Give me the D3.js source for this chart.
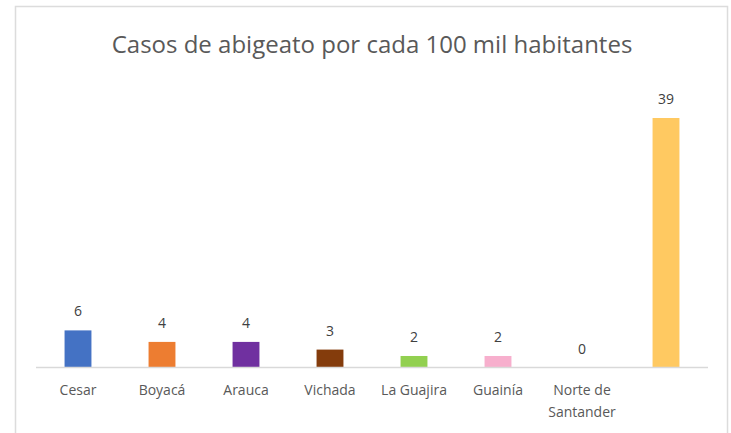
<!DOCTYPE html>
<html>
<head>
<meta charset="utf-8">
<script src="https://cdn.jsdelivr.net/npm/d3@7"></script>
<style>
  body { margin: 0; background: #fff; }
  text { font-family: "Open Sans", "Noto Sans", sans-serif; }
</style>
</head>
<body>
<div id="chart"></div>
<script>
var departamentos = ["Cesar", "Boyacá", "Arauca", "Vichada", "La Guajira", "Guainía", "Norte de Santander", ""];
var casos = [5.8, 4.0, 4.0, 2.8, 1.8, 1.8, 0, 39];
var etiquetas = ["6", "4", "4", "3", "2", "2", "0", "39"];
var colores = ["#4472C4", "#ED7D31", "#7030A0", "#843C0C", "#92D050", "#F7AFCD", "#FFC961", "#FFC961"];

var W = 731, H = 433;
var margin = {left: 36, right: 23, top: 118, bottom: 66};

var svg = d3.select("#chart").append("svg")
	.attr("width", W)
	.attr("height", H);

svg.append("rect")
	.attr("x", 15.5)
	.attr("y", 6.5)
	.attr("width", 712)
	.attr("height", 440)
	.style("fill", "none")
	.style("stroke", "#dcdcdc")
	.style("stroke-width", 1.5);

svg.append("text")
	.attr("x", 372)
	.attr("y", 53)
	.attr("text-anchor", "middle")
	.style("font-size", "24px")
	.style("fill", "#595959")
	.text("Casos de abigeato por cada 100 mil habitantes");

var x = d3.scaleBand()
	.domain(d3.range(departamentos.length))
	.range([margin.left, W - margin.right])
	.paddingInner(0.68)
	.paddingOuter(0.34);

var baseY = 367.5;
var y = d3.scaleLinear()
	.domain([0, 39])
	.range([baseY, margin.top]);

var g = svg.append("g");

g.selectAll("rect.bar")
	.data(casos)
	.enter().append("rect")
	.attr("class", "bar")
	.attr("x", function(d, i) { return x(i); })
	.attr("y", function(d) { return y(d); })
	.attr("width", x.bandwidth())
	.attr("height", function(d) { return baseY - y(d); })
	.style("fill", function(d, i) { return colores[i]; });

g.selectAll("text.valor")
	.data(casos)
	.enter().append("text")
	.attr("class", "valor")
	.attr("x", function(d, i) { return x(i) + x.bandwidth() / 2; })
	.attr("y", function(d) { return y(d) - 14; })
	.attr("text-anchor", "middle")
	.style("font-size", "14px")
	.style("fill", "#404040")
	.text(function(d, i) { return etiquetas[i]; });

svg.append("line")
	.attr("x1", margin.left)
	.attr("x2", W - margin.right)
	.attr("y1", baseY)
	.attr("y2", baseY)
	.style("stroke", "#d9d9d9")
	.style("stroke-width", 1.5);

// etiquetas de categoría, partidas en dos líneas si no caben
var cat = svg.selectAll("text.cat")
	.data(departamentos)
	.enter().append("text")
	.attr("class", "cat")
	.attr("x", function(d, i) { return x(i) + x.bandwidth() / 2; })
	.attr("y", 395)
	.attr("text-anchor", "middle")
	.style("font-size", "14px")
	.style("fill", "#595959");

cat.each(function(d) {
	var lineas = d == "Norte de Santander" ? ["Norte de", "Santander"] : [d];
	var t = d3.select(this);
	lineas.forEach(function(l, k) {
		t.append("tspan")
			.attr("x", t.attr("x"))
			.attr("dy", k == 0 ? 0 : 22)
			.text(l);
	});
});
</script>
</body>
</html>
